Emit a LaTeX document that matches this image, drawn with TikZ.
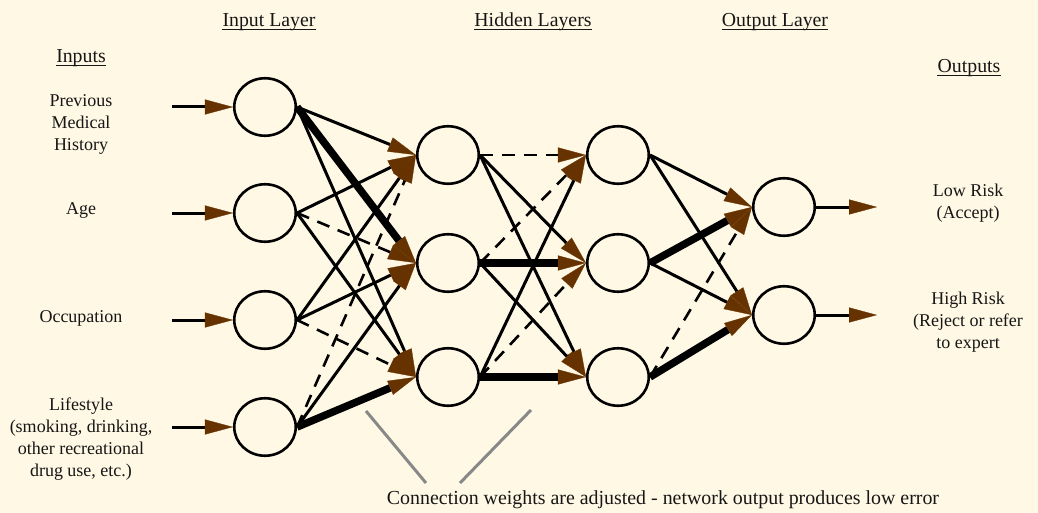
\documentclass[tikz,border=0pt]{standalone}
\usepackage{fontspec}
\setmainfont{Liberation Serif}
\usetikzlibrary{shapes.geometric,arrows.meta}
\definecolor{paper}{RGB}{254,248,228}
\definecolor{tipbrown}{RGB}{102,51,0}
\definecolor{ink}{RGB}{22,22,22}
\definecolor{pointergray}{RGB}{136,136,136}
\begin{document}
\begin{tikzpicture}[x=1pt,y=-1pt,
  neuron/.style={ellipse, draw=black, line width=2.6pt, minimum width=61.5pt, minimum height=57.5pt, inner sep=0pt},
  link/.style={draw=black, line width=3pt,
    -{Triangle[length=28pt,width=15pt,color=tipbrown,fill=tipbrown,line width=0.3pt]}},
  strong/.style={link, line width=7.5pt},
  weak/.style={link, line width=2.6pt, dash pattern=on 13pt off 9pt},
  lbl/.style={font=\fontsize{18}{22}\selectfont, align=center, text=ink, inner sep=0pt},
  hdr/.style={font=\fontsize{19.8}{24}\selectfont, text=ink, inner sep=0pt, anchor=base,
    append after command={([yshift=-2.6pt]\tikzlastnode.base west) edge[draw=ink, line width=1pt] ([yshift=-2.6pt]\tikzlastnode.base east)}},
  pointer/.style={draw=pointergray, line width=3pt}
]
% canvas
\fill[paper] (0,0) rectangle (1038,513);
\useasboundingbox (0,0) rectangle (1038,513);

% headings
\node[hdr] (hIn)   at (269,27) {Input Layer};
\node[hdr] (hHid)  at (533,27) {Hidden Layers};
\node[hdr] (hOut)  at (775,27) {Output Layer};
\node[hdr] (hIns)  at (81,63)  {Inputs};
\node[hdr] (hOuts) at (969,73) {Outputs};

% input descriptions
\node[lbl] (tHist)  at (81,124) {Previous\\Medical\\History};
\node[lbl] (tAge)   at (81,211) {Age};
\node[lbl] (tOcc)   at (81,318) {Occupation};
\node[lbl] (tLife)  at (81,439) {Lifestyle\\(smoking, drinking,\\other recreational\\drug use, etc.)};

% output descriptions
\node[lbl] (tLow)  at (968,203) {Low Risk\\(Accept)};
\node[lbl] (tHigh) at (968,322) {High Risk\\(Reject or refer\\to expert};

% neurons
\node[neuron] (i1) at (265,107) {};
\node[neuron] (i2) at (265,213) {};
\node[neuron] (i3) at (265,320) {};
\node[neuron] (i4) at (265,427) {};

\node[neuron] (a1) at (448,155) {};
\node[neuron] (a2) at (448,263) {};
\node[neuron] (a3) at (448,377) {};

\node[neuron] (b1) at (618,155) {};
\node[neuron] (b2) at (618,263) {};
\node[neuron] (b3) at (618,377) {};

\node[neuron] (o1) at (784,207) {};
\node[neuron] (o2) at (784,315) {};

% feed-in and feed-out stubs
\coordinate (s1) at (172,107);
\coordinate (s2) at (172,213);
\coordinate (s3) at (172,320);
\coordinate (s4) at (172,427);
\coordinate (e1) at (877,207);
\coordinate (e2) at (877,315);
\foreach \k in {1,2,3,4} \draw[link] (s\k) -- (i\k.west);
\draw[link] (o1.east) -- (e1);
\draw[link] (o2.east) -- (e2);

% input layer -> first hidden layer
\draw[link]   (i1.east) -- (a1.west);
\draw[strong] (i1.east) -- (a2.west);
\draw[link]   (i1.east) -- (a3.west);
\draw[link]   (i2.east) -- (a1.west);
\draw[weak]   (i2.east) -- (a2.west);
\draw[link]   (i2.east) -- (a3.west);
\draw[link]   (i3.east) -- (a1.west);
\draw[link]   (i3.east) -- (a2.west);
\draw[weak]   (i3.east) -- (a3.west);
\draw[weak]   (i4.east) -- (a1.west);
\draw[link]   (i4.east) -- (a2.west);
\draw[strong] (i4.east) -- (a3.west);

% first hidden layer -> second hidden layer
\draw[weak]   (a1.east) -- (b1.west);
\draw[link]   (a1.east) -- (b2.west);
\draw[link]   (a1.east) -- (b3.west);
\draw[weak]   (a2.east) -- (b1.west);
\draw[strong] (a2.east) -- (b2.west);
\draw[link]   (a2.east) -- (b3.west);
\draw[link]   (a3.east) -- (b1.west);
\draw[weak]   (a3.east) -- (b2.west);
\draw[strong] (a3.east) -- (b3.west);

% second hidden layer -> output layer
\draw[link]   (b1.east) -- (o1.west);
\draw[link]   (b1.east) -- (o2.west);
\draw[strong] (b2.east) -- (o1.west);
\draw[link]   (b2.east) -- (o2.west);
\draw[weak]   (b3.east) -- (o1.west);
\draw[strong] (b3.east) -- (o2.west);

% caption with its pointers
\node[lbl, font=\fontsize{19.9}{24}\selectfont] (cap) at (663,500) {Connection weights are adjusted - network output produces low error};
\coordinate (p1top) at (366,411);
\coordinate (p1bot) at (426,483);
\coordinate (p2top) at (531,410);
\coordinate (p2bot) at (460,483);
\draw[pointer] (p1top) -- (p1bot);
\draw[pointer] (p2top) -- (p2bot);
\end{tikzpicture}
\end{document}
